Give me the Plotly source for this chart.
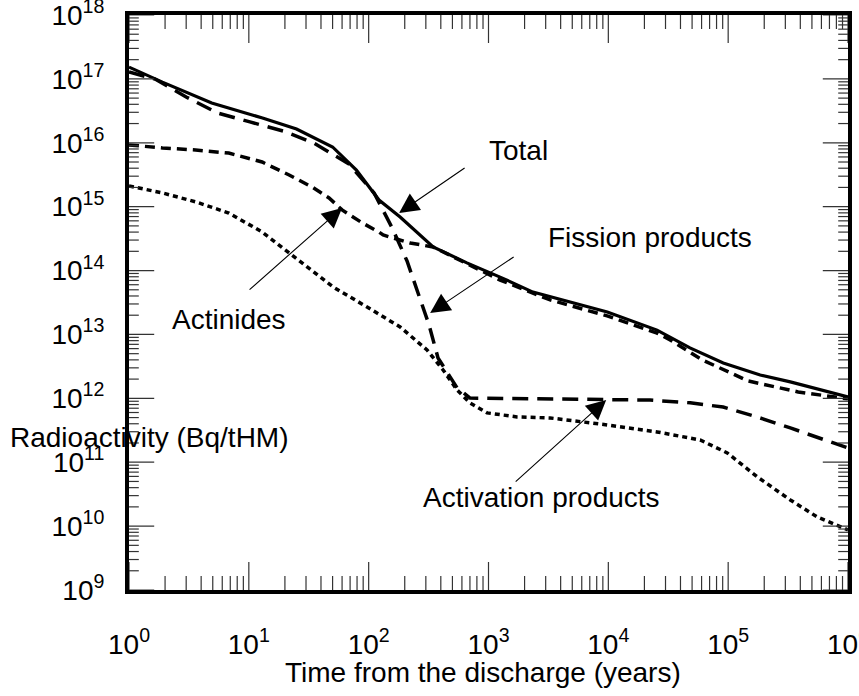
import plotly.graph_objects as go

# ---- data (years, Bq/tHM) ----
total_t = [1, 1.9, 4.9, 13, 25, 50, 79, 122, 183, 345, 660, 1250, 2350, 3270, 9800, 25500, 48000, 91000, 185000, 330000, 1000000]
total_v = [1.53e17, 8.9e16, 4.2e16, 2.44e16, 1.64e16, 8.6e15, 3.75e15, 1.27e15, 6.9e14, 2.34e14, 1.32e14, 7.9e13, 4.6e13, 3.9e13, 2.25e13, 1.17e13, 6.15e12, 3.58e12, 2.32e12, 1.81e12, 1.05e12]

fission_t = [1, 1.65, 3.0, 5.5, 10.2, 19.3, 35, 68.5, 111, 157, 209, 258, 319, 379, 547, 702, 3960, 22300, 48200, 90800, 175000, 330000, 1000000]
fission_v = [1.28e17, 9.95e16, 5.2e16, 2.92e16, 2.12e16, 1.53e16, 9.9e15, 4.66e15, 1.64e15, 4.65e14, 1.41e14, 4.62e13, 1.41e13, 4.29e12, 1.46e12, 1.01e12, 9.8e11, 9.4e11, 8.5e11, 7.3e11, 5.1e11, 3.44e11, 1.67e11]

actinide_t = [1, 1.9, 3.6, 6.8, 12.9, 21.7, 33.7, 46.7, 60, 88, 122, 132, 222, 345, 1250, 3270, 9770, 25500, 32800, 60700, 147000, 384000, 1000000]
actinide_v = [9.25e15, 8.3e15, 7.7e15, 6.9e15, 5.0e15, 3.13e15, 2.03e15, 1.37e15, 8.9e14, 5.6e14, 4.0e14, 3.6e14, 2.7e14, 2.34e14, 7.1e13, 3.47e13, 1.95e13, 1.05e13, 8.2e12, 4.0e12, 1.87e12, 1.26e12, 9.8e11]

activation_t = [1, 1.9, 3.6, 6.8, 12.9, 21.7, 36.4, 50.5, 97, 183, 307, 418, 547, 702, 973, 1730, 3270, 9770, 25500, 58300, 98200, 175000, 330000, 553000, 1000000]
activation_v = [2.11e15, 1.64e15, 1.19e15, 7.96e14, 4.02e14, 1.88e14, 9.16e13, 5.53e13, 2.69e13, 1.31e13, 5.71e12, 2.78e12, 1.35e12, 8.47e11, 5.92e11, 5.12e11, 4.93e11, 3.84e11, 2.98e11, 2.23e11, 1.40e11, 5.89e10, 2.57e10, 1.39e10, 8.73e9]

x_tickvals = [1, 10, 100, 1000, 10000, 100000, 1000000]
x_ticktext = ["10<sup>0</sup>", "10<sup>1</sup>", "10<sup>2</sup>", "10<sup>3</sup>", "10<sup>4</sup>", "10<sup>5</sup>", "10<sup>6</sup>"]
y_tickvals = [1e9, 1e10, 1e11, 1e12, 1e13, 1e14, 1e15, 1e16, 1e17, 1e18]
y_ticktext = ["10<sup>9</sup>", "10<sup>10</sup>", "10<sup>11</sup>", "10<sup>12</sup>", "10<sup>13</sup>",
              "10<sup>14</sup>", "10<sup>15</sup>", "10<sup>16</sup>", "10<sup>17</sup>", "10<sup>18</sup>"]

# minor tick positions: 2..9 within each decade
x_minor = [m * d for d in x_tickvals[:-1] for m in range(2, 10)]
y_minor = [m * d for d in y_tickvals[:-1] for m in range(2, 10)]

X_MIN, X_MAX = x_tickvals[0], x_tickvals[-1]
Y_MIN, Y_MAX = y_tickvals[0], y_tickvals[-1]

FONT = "Liberation Sans, Arial, sans-serif"
TICKC = "#333"

fig = go.Figure()
fig.add_trace(go.Scatter(x=activation_t, y=activation_v, mode="lines", name="Activation products",
                         line=dict(color="black", width=3.5, dash="5px,4px")))
fig.add_trace(go.Scatter(x=actinide_t, y=actinide_v, mode="lines", name="Actinides",
                         line=dict(color="black", width=3.5, dash="10px,6px")))
fig.add_trace(go.Scatter(x=fission_t, y=fission_v, mode="lines", name="Fission products",
                         line=dict(color="black", width=3.5, dash="16px,9px")))
fig.add_trace(go.Scatter(x=total_t, y=total_v, mode="lines", name="Total",
                         line=dict(color="black", width=3.2)))


# inward tick marks on all four frame edges: line markers centred on the edge,
# the outer half is clipped away by the plot area so only the inner half shows
def tick_trace(xs, ys, symbol, size):
    fig.add_trace(go.Scatter(x=xs, y=ys, mode="markers", cliponaxis=True, hoverinfo="skip",
                             showlegend=False,
                             marker=dict(symbol=symbol, size=size, color=TICKC,
                                         line=dict(color=TICKC, width=1.2))))


for edge in (Y_MIN, Y_MAX):
    tick_trace(x_tickvals, [edge] * len(x_tickvals), "line-ns", 40)
    tick_trace(x_minor, [edge] * len(x_minor), "line-ns", 20)
for edge in (X_MIN, X_MAX):
    tick_trace([edge] * len(y_tickvals), y_tickvals, "line-ew", 36)
    tick_trace([edge] * len(y_minor), y_minor, "line-ew", 14)

fig.update_layout(
    xaxis=dict(type="log", range=[0, 6], showgrid=False, zeroline=False,
               tickmode="array", tickvals=x_tickvals, ticktext=x_ticktext, ticks="",
               showline=True, linecolor="black", linewidth=4, mirror=True,
               ticklabelstandoff=26, ticklabeloverflow="allow",
               tickfont=dict(family=FONT, size=28, color="black")),
    yaxis=dict(type="log", range=[9, 18], showgrid=False, zeroline=False,
               tickmode="array", tickvals=y_tickvals, ticktext=y_ticktext, ticks="",
               showline=True, linecolor="black", linewidth=4, mirror=True,
               ticklabelstandoff=15, ticklabeloverflow="allow",
               tickfont=dict(family=FONT, size=28, color="black")),
)


def arrow(x, y, ax, ay):
    fig.add_annotation(x=x, y=y, xref="x", yref="y", ax=ax, ay=ay, text="", showarrow=True,
                       arrowhead=2, arrowsize=3.6, arrowwidth=1.1, arrowcolor="black")


def label(text, x, y, xref="x", yref="y"):
    fig.add_annotation(x=x, y=y, xref=xref, yref=yref, text=text, showarrow=False,
                       xanchor="center", yanchor="middle",
                       font=dict(family=FONT, size=28, color="black"))


# arrows (tip positions in log10 axis units, tails as pixel offsets)
arrow(2.254, 14.901, 67, -46)     # Total
arrow(2.513, 13.336, 85, -57)     # Fission products
arrow(1.778, 14.98, -94, 83)      # Actinides
arrow(3.982, 11.975, -92, 83)     # Activation products

label("Total", 3.247, 15.887)
label("Fission products", 4.349, 14.51)
label("Actinides", 0.835, 13.227)
label("Activation products", 3.443, 10.441)
label("Radioactivity (Bq/tHM)", 0.029, 0.266, "paper", "paper")
label("Time from the discharge (years)", 0.493, -0.144, "paper", "paper")

fig.update_layout(
    width=859, height=696,
    margin=dict(l=129, r=11, t=15, b=106, autoexpand=False),
    paper_bgcolor="white", plot_bgcolor="white",
    showlegend=False,
    font=dict(family=FONT, size=28, color="black"),
)

fig.write_html("out.html")
